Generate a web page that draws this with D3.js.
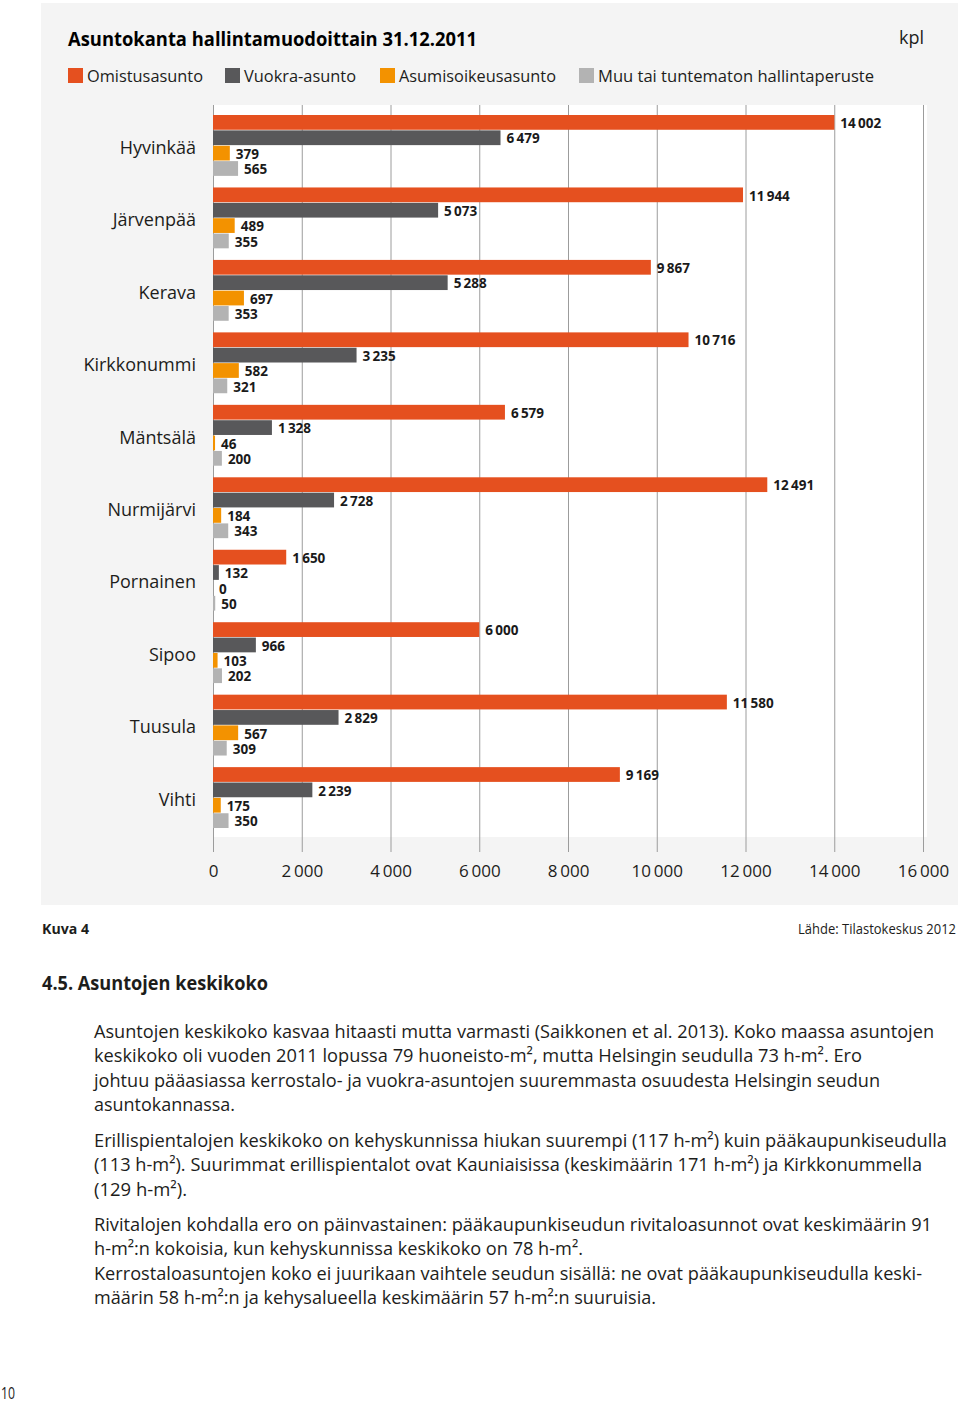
<!DOCTYPE html>
<html>
<head>
<meta charset="utf-8">
<script src="https://cdn.jsdelivr.net/npm/d3@7"></script>
<style>
  html, body { margin: 0; padding: 0; background: #fff; }
  svg { display: block; }
  text { font-family: "Open Sans", "Noto Sans", sans-serif; fill: #1d1d1b; }
</style>
</head>
<body>
<svg id="chart" width="960" height="1403"></svg>
<script>
// ---- data ----
const categories = ["Hyvinkää", "Järvenpää", "Kerava", "Kirkkonummi", "Mäntsälä", "Nurmijärvi", "Pornainen", "Sipoo", "Tuusula", "Vihti"];
const seriesNames = ["Omistusasunto", "Vuokra-asunto", "Asumisoikeusasunto", "Muu tai tuntematon hallintaperuste"];
const omistus = [14002, 11944, 9867, 10716, 6579, 12491, 1650, 6000, 11580, 9169];
const vuokra = [6479, 5073, 5288, 3235, 1328, 2728, 132, 966, 2829, 2239];
const asumisoikeus = [379, 489, 697, 582, 46, 184, 0, 103, 567, 175];
const muu = [565, 355, 353, 321, 200, 343, 50, 202, 309, 350];
const xTicks = [0, 2000, 4000, 6000, 8000, 10000, 12000, 14000, 16000];
const colors = ["#e5501f", "#58585a", "#f39200", "#b3b3b3"];

const seriesValues = [omistus, vuokra, asumisoikeus, muu];

const svg = d3.select("#chart");
const loc = d3.formatLocale({decimal: ",", thousands: "\u2009", grouping: [3], currency: ["", ""]});
const fmt = loc.format(",d");

// panel
svg.append("rect").attr("x", 41).attr("y", 3).attr("width", 917).attr("height", 902).attr("fill", "#f4f4f4");
svg.append("rect").attr("x", 213).attr("y", 105).attr("width", 714).attr("height", 732).attr("fill", "#ffffff");

// title
svg.append("text").attr("x", 68).attr("y", 46)
  .attr("font-size", 19).attr("font-weight", 700).style("fill", "#000")
  .attr("textLength", 409).attr("lengthAdjust", "spacingAndGlyphs")
  .text("Asuntokanta hallintamuodoittain 31.12.2011");
svg.append("text").attr("x", 924).attr("y", 44).attr("text-anchor", "end")
  .attr("font-size", 18).text("kpl");

// legend
const legendX = [68, 225, 380, 579];
const legendW = [116, 112, 157, 276];
const leg = svg.append("g");
seriesNames.forEach((s, i) => {
  leg.append("rect").attr("x", legendX[i]).attr("y", 68).attr("width", 15).attr("height", 15).attr("fill", colors[i]);
  leg.append("text").attr("x", legendX[i] + 19).attr("y", 82).attr("font-size", 17)
    .attr("textLength", legendW[i]).attr("lengthAdjust", "spacingAndGlyphs").text(s);
});

// scales
const x = d3.scaleLinear().domain([0, 16000]).range([213, 923]);
const y0 = d3.scaleBand().domain(categories).range([115, 828]).paddingInner(0.16).paddingOuter(0);
const y1 = d3.scaleBand().domain(d3.range(4)).range([0, y0.bandwidth()]).paddingInner(0.04);

// grid + axis
const axis = svg.append("g").attr("transform", "translate(0,852)")
  .call(d3.axisBottom(x).tickValues(xTicks).tickSize(-(852 - 105)).tickPadding(13).tickFormat(fmt));
axis.select(".domain").remove();
axis.selectAll(".tick line").attr("stroke", "#9c9c9c").attr("stroke-width", 1);
axis.selectAll(".tick text").attr("font-size", 17).attr("font-family", "'Open Sans', sans-serif").attr("fill", "#1d1d1b");

// category labels
svg.append("g").selectAll("text").data(categories).join("text")
  .attr("x", 196).attr("y", d => y0(d) + y0.bandwidth() / 2 + 2)
  .attr("dy", "0.35em").attr("text-anchor", "end").attr("font-size", 18)
  .text(d => d);

// bars
const groups = svg.append("g").selectAll("g").data(categories).join("g")
  .attr("transform", d => `translate(0,${y0(d)})`);
groups.each(function(cat, ci) {
  const g = d3.select(this);
  seriesValues.forEach((vals, si) => {
    const v = vals[ci];
    g.append("rect").attr("x", x(0)).attr("y", y1(si))
      .attr("width", x(v) - x(0)).attr("height", y1.bandwidth())
      .attr("fill", colors[si]);
    g.append("text").attr("x", x(v) + 6).attr("y", y1(si) + y1.bandwidth() / 2 + 1)
      .attr("dy", "0.35em").attr("font-size", 13.5).attr("font-weight", 700)
      .style("fill", "#1a1a1a").text(fmt(v));
  });
});

// footer texts
svg.append("text").attr("x", 42).attr("y", 934).attr("font-size", 15).attr("font-weight", 700)
  .attr("textLength", 47).attr("lengthAdjust", "spacingAndGlyphs").text("Kuva 4");
svg.append("text").attr("x", 956).attr("y", 934).attr("font-size", 15).attr("text-anchor", "end")
  .attr("textLength", 158).attr("lengthAdjust", "spacingAndGlyphs").text("Lähde: Tilastokeskus 2012");
svg.append("text").attr("x", 42).attr("y", 990).attr("font-size", 19.5).attr("font-weight", 700)
  .attr("textLength", 226).attr("lengthAdjust", "spacingAndGlyphs").text("4.5. Asuntojen keskikoko");

const bodyLines = [
  ["Asuntojen keskikoko kasvaa hitaasti mutta varmasti (Saikkonen et al. 2013). Koko maassa asuntojen", 1038, 840],
  ["keskikoko oli vuoden 2011 lopussa 79 huoneisto-m², mutta Helsingin seudulla 73 h-m². Ero", 1062, 768],
  ["johtuu pääasiassa kerrostalo- ja vuokra-asuntojen suuremmasta osuudesta Helsingin seudun", 1087, 786],
  ["asuntokannassa.", 1111, 141],
  ["Erillispientalojen keskikoko on kehyskunnissa hiukan suurempi (117 h-m²) kuin pääkaupunkiseudulla", 1147, 853],
  ["(113 h-m²). Suurimmat erillispientalot ovat Kauniaisissa (keskimäärin 171 h-m²) ja Kirkkonummella", 1171, 828],
  ["(129 h-m²).", 1196, 93],
  ["Rivitalojen kohdalla ero on päinvastainen: pääkaupunkiseudun rivitaloasunnot ovat keskimäärin 91", 1231, 838],
  ["h-m²:n kokoisia, kun kehyskunnissa keskikoko on 78 h-m².", 1255, 489],
  ["Kerrostaloasuntojen koko ei juurikaan vaihtele seudun sisällä: ne ovat pääkaupunkiseudulla keski-", 1280, 828],
  ["määrin 58 h-m²:n ja kehysalueella keskimäärin 57 h-m²:n suuruisia.", 1304, 562]
];
svg.append("g").selectAll("text").data(bodyLines).join("text")
  .attr("x", 94).attr("y", d => d[1]).attr("font-size", 18.5)
  .attr("textLength", d => d[2]).attr("lengthAdjust", "spacingAndGlyphs")
  .text(d => d[0]);

svg.append("text").attr("x", 1).attr("y", 1399).attr("font-size", 17)
  .attr("textLength", 14).attr("lengthAdjust", "spacingAndGlyphs").text("10");
</script>
</body>
</html>
